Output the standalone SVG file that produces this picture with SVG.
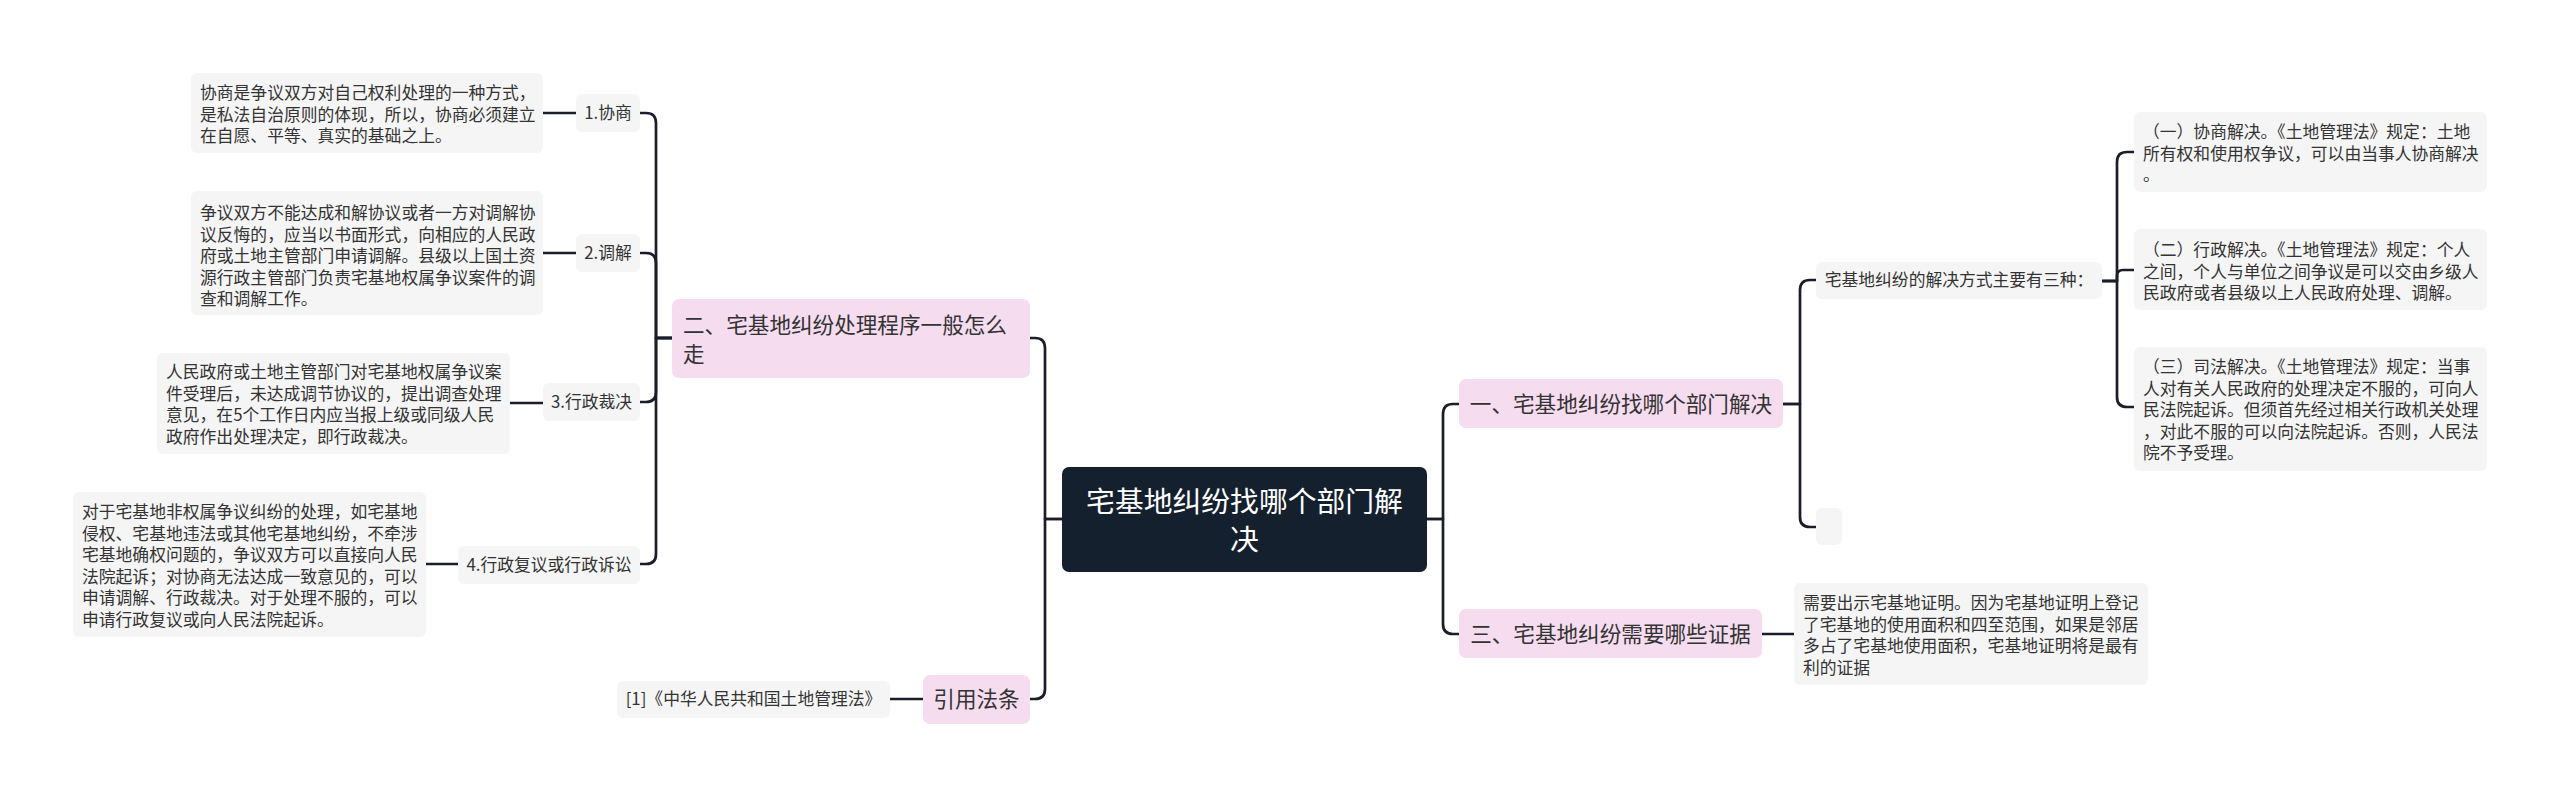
<svg xmlns="http://www.w3.org/2000/svg" width="2560" height="797" viewBox="0 0 2560 797">
<style>
.bg{fill:#ffffff}
.leaf{fill:#f5f5f5}
.main{fill:#f6dcef}
.root{fill:#15202f}
.t{font-family:"Noto Sans CJK SC","Noto Sans",sans-serif;font-size:16.8px;fill:#333333}
.tm{font-family:"Noto Sans CJK SC","Noto Sans",sans-serif;font-size:21.6px;fill:#333333}
.tr{font-family:"Noto Sans CJK SC","Noto Sans",sans-serif;font-size:28.8px;fill:#ffffff}
.c{text-anchor:middle}
.ln{fill:none;stroke:#1b1e2a;stroke-width:2.7;stroke-linecap:round;stroke-linejoin:round}
</style>
<rect class="bg" x="0" y="0" width="2560" height="797"/>

<g id="connectors">
  <path class="ln" d="M543,113 H576"/>
  <path class="ln" d="M543,253 H576"/>
  <path class="ln" d="M510,403 H543"/>
  <path class="ln" d="M426,564 H458"/>
  <path class="ln" d="M672,338 H656 V123 Q656,113 646,113 H640"/>
  <path class="ln" d="M672,338 H656 V263 Q656,253 646,253 H640"/>
  <path class="ln" d="M672,338 H656 V392 Q656,402 646,402 H640"/>
  <path class="ln" d="M672,338 H656 V554 Q656,564 646,564 H640"/>
  <path class="ln" d="M1062,519 H1045 V348 Q1045,338 1035,338 H1030"/>
  <path class="ln" d="M1062,519 H1045 V689 Q1045,699 1035,699 H1030"/>
  <path class="ln" d="M890,699 H923"/>
  <path class="ln" d="M1427,519 H1443 V414 Q1443,404 1453,404 H1459"/>
  <path class="ln" d="M1427,519 H1443 V624 Q1443,634 1453,634 H1459"/>
  <path class="ln" d="M1783,404 H1800 V290 Q1800,280 1810,280 H1816"/>
  <path class="ln" d="M1783,404 H1800 V517 Q1800,527 1810,527 H1816"/>
  <path class="ln" d="M1762,634 H1794"/>
  <path class="ln" d="M2102,281 H2117 V162 Q2117,152 2127,152 H2134"/>
  <path class="ln" d="M2102,281 H2117 V276 Q2117,270 2123,270 H2134"/>
  <path class="ln" d="M2102,281 H2117 V397 Q2117,407 2127,407 H2134"/>
</g>

<g id="root">
  <rect class="root" x="1062" y="467" width="365" height="105" rx="7"/>
  <text class="tr c" x="1244.5" y="512">宅基地纠纷找哪个部门解</text>
  <text class="tr c" x="1244.5" y="550">决</text>
</g>

<g id="branch-2">
  <rect class="main" x="672" y="299" width="358" height="79" rx="7"/>
  <text class="tm" x="683" y="333">二、宅基地纠纷处理程序一般怎么</text>
  <text class="tm" x="683" y="362">走</text>
</g>

<g id="node-1">
  <rect class="leaf" x="576" y="94" width="64" height="38" rx="6"/>
  <text class="t c" x="608" y="119">1.协商</text>
</g>
<g id="node-1-text">
  <rect class="leaf" x="191" y="73" width="352" height="80" rx="6"/>
  <text class="t" x="200" y="99">协商是争议双方对自己权利处理的一种方式，</text>
  <text class="t" x="200" y="120.5">是私法自治原则的体现，所以，协商必须建立</text>
  <text class="t" x="200" y="142">在自愿、平等、真实的基础之上。</text>
</g>

<g id="node-2">
  <rect class="leaf" x="576" y="234" width="64" height="38" rx="6"/>
  <text class="t c" x="608" y="259">2.调解</text>
</g>
<g id="node-2-text">
  <rect class="leaf" x="191" y="191" width="352" height="124" rx="6"/>
  <text class="t" x="200" y="219">争议双方不能达成和解协议或者一方对调解协</text>
  <text class="t" x="200" y="240.5">议反悔的，应当以书面形式，向相应的人民政</text>
  <text class="t" x="200" y="262">府或土地主管部门申请调解。县级以上国土资</text>
  <text class="t" x="200" y="283.5">源行政主管部门负责宅基地权属争议案件的调</text>
  <text class="t" x="200" y="305">查和调解工作。</text>
</g>

<g id="node-3">
  <rect class="leaf" x="543" y="383" width="97" height="38" rx="6"/>
  <text class="t c" x="591.5" y="408">3.行政裁决</text>
</g>
<g id="node-3-text">
  <rect class="leaf" x="157" y="353" width="353" height="101" rx="6"/>
  <text class="t" x="166" y="378">人民政府或土地主管部门对宅基地权属争议案</text>
  <text class="t" x="166" y="399.5">件受理后，未达成调节协议的，提出调查处理</text>
  <text class="t" x="166" y="421">意见，在5个工作日内应当报上级或同级人民</text>
  <text class="t" x="166" y="442.5">政府作出处理决定，即行政裁决。</text>
</g>

<g id="node-4">
  <rect class="leaf" x="458" y="546" width="182" height="38" rx="6"/>
  <text class="t c" x="549" y="571">4.行政复议或行政诉讼</text>
</g>
<g id="node-4-text">
  <rect class="leaf" x="73" y="492" width="353" height="145" rx="6"/>
  <text class="t" x="82" y="518">对于宅基地非权属争议纠纷的处理，如宅基地</text>
  <text class="t" x="82" y="539.5">侵权、宅基地违法或其他宅基地纠纷，不牵涉</text>
  <text class="t" x="82" y="561">宅基地确权问题的，争议双方可以直接向人民</text>
  <text class="t" x="82" y="582.5">法院起诉；对协商无法达成一致意见的，可以</text>
  <text class="t" x="82" y="604">申请调解、行政裁决。对于处理不服的，可以</text>
  <text class="t" x="82" y="625.5">申请行政复议或向人民法院起诉。</text>
</g>

<g id="branch-law">
  <rect class="main" x="923" y="675" width="107" height="49" rx="7"/>
  <text class="tm c" x="976.5" y="707">引用法条</text>
</g>
<g id="law-1">
  <rect class="leaf" x="617" y="681" width="273" height="37" rx="6"/>
  <text class="t c" x="753.5" y="705">[1]《中华人民共和国土地管理法》</text>
</g>

<g id="branch-1">
  <rect class="main" x="1459" y="379" width="324" height="49" rx="7"/>
  <text class="tm c" x="1621" y="412">一、宅基地纠纷找哪个部门解决</text>
</g>
<g id="ways">
  <rect class="leaf" x="1816" y="262" width="286" height="37" rx="6"/>
  <text class="t c" x="1959" y="286">宅基地纠纷的解决方式主要有三种：</text>
</g>
<g id="empty-node">
  <rect class="leaf" x="1816" y="508" width="26" height="37" rx="6"/>
</g>
<g id="way-1">
  <rect class="leaf" x="2134" y="112" width="353" height="80" rx="6"/>
  <text class="t" x="2143" y="138">（一）协商解决。《土地管理法》规定：土地</text>
  <text class="t" x="2143" y="159.5">所有权和使用权争议，可以由当事人协商解决</text>
  <text class="t" x="2143" y="181">。</text>
</g>
<g id="way-2">
  <rect class="leaf" x="2134" y="229" width="353" height="81" rx="6"/>
  <text class="t" x="2143" y="256">（二）行政解决。《土地管理法》规定：个人</text>
  <text class="t" x="2143" y="277.5">之间，个人与单位之间争议是可以交由乡级人</text>
  <text class="t" x="2143" y="299">民政府或者县级以上人民政府处理、调解。</text>
</g>
<g id="way-3">
  <rect class="leaf" x="2134" y="347" width="353" height="124" rx="6"/>
  <text class="t" x="2143" y="373">（三）司法解决。《土地管理法》规定：当事</text>
  <text class="t" x="2143" y="394.5">人对有关人民政府的处理决定不服的，可向人</text>
  <text class="t" x="2143" y="416">民法院起诉。但须首先经过相关行政机关处理</text>
  <text class="t" x="2143" y="437.5">，对此不服的可以向法院起诉。否则，人民法</text>
  <text class="t" x="2143" y="459">院不予受理。</text>
</g>

<g id="branch-3">
  <rect class="main" x="1459" y="609" width="303" height="49" rx="7"/>
  <text class="tm c" x="1610.5" y="642">三、宅基地纠纷需要哪些证据</text>
</g>
<g id="evidence">
  <rect class="leaf" x="1794" y="583" width="354" height="102" rx="6"/>
  <text class="t" x="1803" y="609">需要出示宅基地证明。因为宅基地证明上登记</text>
  <text class="t" x="1803" y="630.5">了宅基地的使用面积和四至范围，如果是邻居</text>
  <text class="t" x="1803" y="652">多占了宅基地使用面积，宅基地证明将是最有</text>
  <text class="t" x="1803" y="673.5">利的证据</text>
</g>
</svg>
